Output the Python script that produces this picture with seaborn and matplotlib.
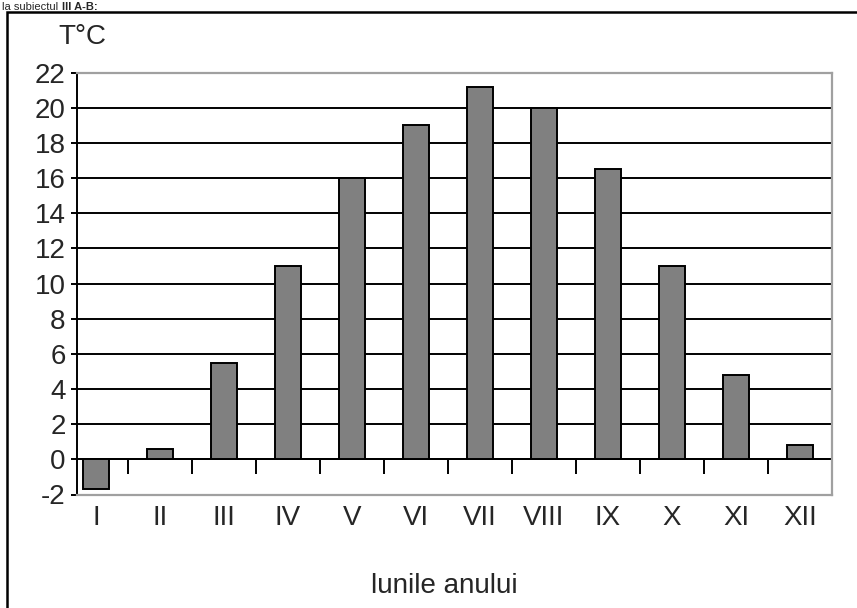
import numpy as np
import matplotlib
matplotlib.use('Agg')
import matplotlib.pyplot as plt
import matplotlib.patches as mpatches
import seaborn as sns

# Temperaturi medii lunare
months = ['I', 'II', 'III', 'IV', 'V', 'VI', 'VII', 'VIII', 'IX', 'X', 'XI', 'XII']
temps = [-1.7, 0.6, 5.5, 11, 16, 19, 21.2, 20, 16.5, 11, 4.8, 0.8]
y_ticks = [-2, 0, 2, 4, 6, 8, 10, 12, 14, 16, 18, 20, 22]
boundary_ticks = [0.5, 1.5, 2.5, 3.5, 4.5, 5.5, 6.5, 7.5, 8.5, 9.5, 10.5, 11.5]

sns.set_style('white')
plt.rcParams['font.family'] = ['Liberation Sans', 'DejaVu Sans']
fs = 20
lw = 1.4

fig = plt.figure(figsize=(8.57, 6.08), dpi=100)
ax = fig.add_axes([76.7 / 857, 1 - 494.5 / 608, (832 - 76.7) / 857, (494.5 - 72.7) / 608])

sns.barplot(x=months, y=temps, color='#808080', saturation=1, edgecolor='black',
            linewidth=lw, width=0.4, ax=ax, zorder=3)

ax.set_xlim(-0.3, 11.5)
ax.set_ylim(-2, 22)
ax.set_yticks(y_ticks)
ax.set_yticklabels([str(v) for v in y_ticks], fontsize=fs)
ax.tick_params(axis='y', direction='out', length=4, width=lw, color='black', pad=4, left=True)
ax.tick_params(axis='x', length=0, pad=7.5, labelsize=fs)

# grille horizontale noire (sauf -2 et 22 qui sont le cadre)
ax.yaxis.grid(True, color='black', linewidth=lw)
ax.set_axisbelow(True)
gl = ax.get_ygridlines()
gl[0].set_visible(False)
gl[-1].set_visible(False)

for side in ['top', 'right', 'bottom']:
    ax.spines[side].set_color('#a0a0a0')
    ax.spines[side].set_linewidth(1.6)
ax.spines['left'].set_color('black')
ax.spines['left'].set_linewidth(lw)
ax.set_xlabel('')
ax.set_ylabel('')

# axe des x sur la ligne zero, avec les traits entre les categories
sec = ax.secondary_xaxis(0, transform=ax.transData)
sec.set_xticks(boundary_ticks)
sec.tick_params(axis='x', direction='out', length=11, width=lw, color='black', labelbottom=False)
sec.spines['bottom'].set_color('black')
sec.spines['bottom'].set_linewidth(lw)

fig.text(82 / 857, 1 - 37 / 608, 'T°C', fontsize=fs, ha='center', va='center')
fig.text(444 / 857, 1 - 586 / 608, 'lunile anului', fontsize=fs, ha='center', va='center')

# texte au-dessus du cadre (reduit pour tenir dans la marge)
fig.text(2 / 857, 1 - 10 / 608, 'la subiectul', fontsize=8, ha='left', va='baseline')
fig.text(62 / 857, 1 - 10 / 608, 'III A-B:', fontsize=8, ha='left', va='baseline', fontweight='bold')

# cadre exterieur (gauche et haut)
fig.add_artist(mpatches.Rectangle((7.5 / 857, -0.1), 1.2, 1.1 - 12.5 / 608, transform=fig.transFigure,
                                  fill=False, edgecolor='black', linewidth=1.8))

fig.savefig('out.png', dpi=100)
